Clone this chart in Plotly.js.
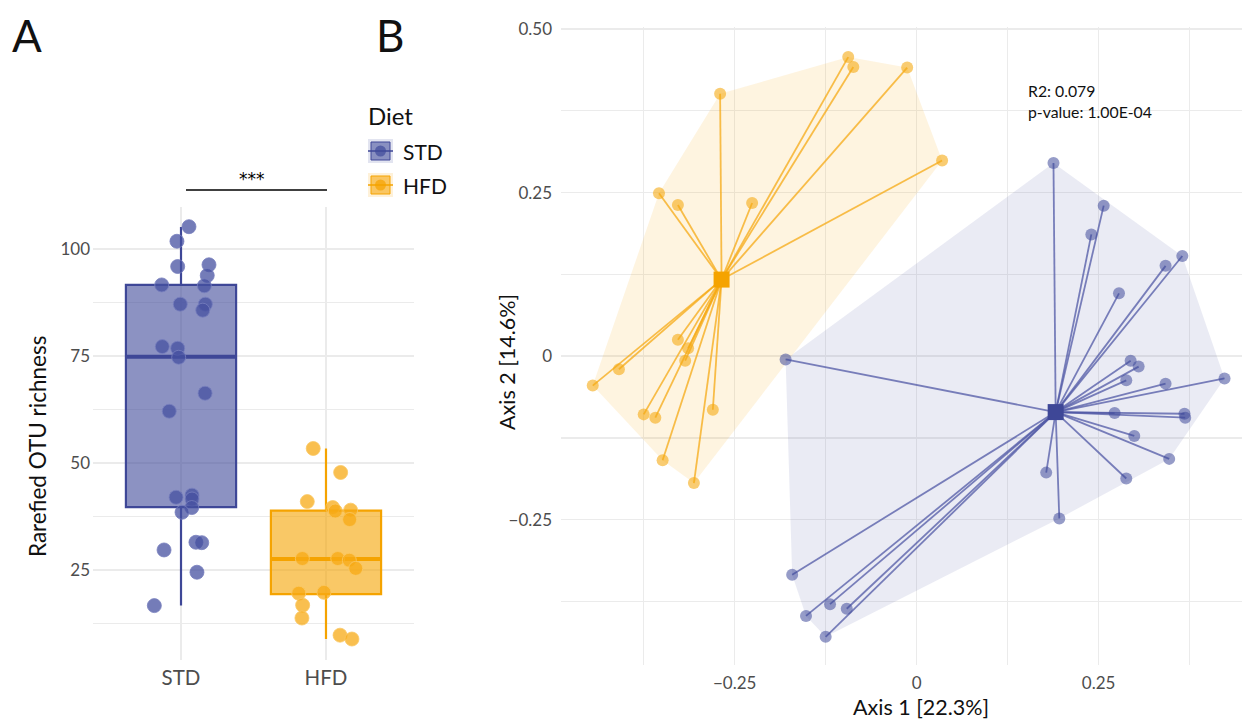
<!DOCTYPE html>
<html>
<head>
<meta charset="utf-8">
<script src="https://cdn.plot.ly/plotly-3.0.1.min.js"></script>
<style>html,body{margin:0;padding:0;background:#fff;}#chart{width:1244px;height:722px;}</style>
</head>
<body>
<div id="chart"></div>
<script>
// ---------- Panel A data ----------
const groupsA = ['STD', 'HFD'];
const stdRich = [105.2, 101.8, 95.9, 96.3, 93.8, 91.6, 91.4, 87.1, 87.1, 85.7, 77.2, 76.8, 74.7, 66.3, 62.1, 42.0, 42.5, 41.6, 39.6, 38.5, 31.5, 31.4, 29.7, 24.5, 16.7];
const stdJitter = [0.055, -0.028, -0.023, 0.193, 0.181, -0.133, 0.161, -0.005, 0.168, 0.15, -0.129, -0.023, -0.016, 0.166, -0.081, -0.034, 0.076, 0.076, 0.074, 0.007, 0.103, 0.143, -0.117, 0.11, -0.184];
const hfdRich = [53.4, 47.8, 41.0, 39.6, 38.8, 39.0, 36.8, 27.7, 27.7, 27.3, 25.4, 19.6, 19.8, 16.8, 13.8, 9.8, 8.9];
const hfdJitter = [-0.088, 0.101, -0.129, 0.046, 0.064, 0.17, 0.163, -0.163, 0.081, 0.161, 0.205, -0.188, -0.014, -0.161, -0.166, 0.097, 0.179];
// box stats [lowerfence, q1, median, q3, upperfence]
const stdBox = [16.7, 39.7, 74.8, 91.6, 105.1];
const hfdBox = [8.9, 19.4, 27.6, 38.9, 53.4];
const yTicksA = [25, 50, 75, 100];
const sigLabel = '***';

// ---------- Panel B data ----------
const hfdAx1 = [-0.094, -0.087, -0.270, -0.354, -0.328, -0.226, -0.328, -0.314, -0.013, 0.035, -0.318, -0.409, -0.445, -0.375, -0.359, -0.280, -0.349, -0.306];
const hfdAx2 = [0.457, 0.442, 0.401, 0.249, 0.231, 0.234, 0.025, 0.012, 0.441, 0.299, -0.007, -0.020, -0.045, -0.089, -0.094, -0.082, -0.159, -0.194];
const stdAx1 = [0.188, 0.257, 0.240, 0.365, 0.342, 0.278, 0.294, 0.305, 0.288, 0.342, 0.423, 0.272, 0.368, 0.369, 0.299, 0.347, 0.178, 0.288, 0.196, -0.096, -0.180, -0.171, -0.152, -0.119, -0.125];
const stdAx2 = [0.295, 0.230, 0.186, 0.153, 0.138, 0.096, -0.007, -0.016, -0.037, -0.042, -0.034, -0.087, -0.088, -0.094, -0.122, -0.157, -0.178, -0.187, -0.248, -0.386, -0.005, -0.334, -0.397, -0.379, -0.429];
const stdCentroid = [0.191, -0.0855];
const hfdCentroid = [-0.268, 0.117];
const tickValsB = [-0.25, 0, 0.25, 0.5];
const tickTextB = ['\u22120.25', '0', '0.25', '0.50'];
const statsText = 'R2: 0.079<br>p-value: 1.00E-04';

// ---------- styling ----------
const W = 1244, H = 722;
const px = v => v / W, py = v => 1 - v / H;
const FONT = 'Lato, "Open Sans", sans-serif';
const BLUE = '#3e4797', ORANGE = '#f5a300';
const GRID = '#ebebeb';

function hull(xs, ys) {
  const pts = xs.map((x, i) => [x, ys[i]]).sort((a, b) => a[0] - b[0] || a[1] - b[1]);
  const cross = (o, a, b) => (a[0] - o[0]) * (b[1] - o[1]) - (a[1] - o[1]) * (b[0] - o[0]);
  const lower = [], upper = [];
  for (const p of pts) { while (lower.length >= 2 && cross(lower[lower.length - 2], lower[lower.length - 1], p) <= 0) lower.pop(); lower.push(p); }
  for (let i = pts.length - 1; i >= 0; i--) { const p = pts[i]; while (upper.length >= 2 && cross(upper[upper.length - 2], upper[upper.length - 1], p) <= 0) upper.pop(); upper.push(p); }
  const h = lower.slice(0, -1).concat(upper.slice(0, -1));
  h.push(h[0]);
  return { x: h.map(p => p[0]), y: h.map(p => p[1]) };
}
function spokes(xs, ys, c) {
  const x = [], y = [];
  xs.forEach((v, i) => { x.push(v, c[0], null); y.push(ys[i], c[1], null); });
  return { x, y };
}

const traces = [];
// Panel A boxes
const boxW = 0.76;
[[stdBox, 0, BLUE, 'rgba(63,74,154,0.6)'], [hfdBox, 1, ORANGE, 'rgba(245,163,0,0.6)']].forEach(([b, xi, lc, fc]) => {
  traces.push({
    type: 'box', x: [xi], lowerfence: [b[0]], q1: [b[1]], median: [b[2]], q3: [b[3]], upperfence: [b[4]],
    width: boxW, whiskerwidth: 0, fillcolor: fc, line: { color: lc, width: 2.2 },
    boxpoints: false, showlegend: false, hoverinfo: 'skip', xaxis: 'x', yaxis: 'y'
  });
  traces.push({
    type: 'scatter', mode: 'lines', x: [xi - boxW / 2, xi + boxW / 2], y: [b[2], b[2]],
    line: { color: lc, width: 4 }, showlegend: false, hoverinfo: 'skip', xaxis: 'x', yaxis: 'y'
  });
});
traces.push({
  type: 'scatter', mode: 'markers', x: stdJitter.map(j => 0 + j), y: stdRich,
  marker: { size: 14, color: 'rgba(70,80,160,0.75)', line: { color: 'rgba(120,128,190,0.8)', width: 1 } },
  showlegend: false, hoverinfo: 'skip', xaxis: 'x', yaxis: 'y'
});
traces.push({
  type: 'scatter', mode: 'markers', x: hfdJitter.map(j => 1 + j), y: hfdRich,
  marker: { size: 14, color: 'rgba(247,170,20,0.75)', line: { color: 'rgba(250,200,100,0.8)', width: 1 } },
  showlegend: false, hoverinfo: 'skip', xaxis: 'x', yaxis: 'y'
});

// Panel B hulls
const hH = hull(hfdAx1, hfdAx2), hS = hull(stdAx1, stdAx2);
traces.push({ type: 'scatter', mode: 'lines', x: hH.x, y: hH.y, fill: 'toself', fillcolor: 'rgba(245,163,0,0.12)', line: { width: 0 }, showlegend: false, hoverinfo: 'skip', xaxis: 'x2', yaxis: 'y2' });
traces.push({ type: 'scatter', mode: 'lines', x: hS.x, y: hS.y, fill: 'toself', fillcolor: 'rgba(63,74,154,0.11)', line: { width: 0 }, showlegend: false, hoverinfo: 'skip', xaxis: 'x2', yaxis: 'y2' });
// spokes
const sH = spokes(hfdAx1, hfdAx2, hfdCentroid), sS = spokes(stdAx1, stdAx2, stdCentroid);
traces.push({ type: 'scatter', mode: 'lines', x: sH.x, y: sH.y, line: { color: 'rgba(245,170,20,0.75)', width: 1.8 }, showlegend: false, hoverinfo: 'skip', xaxis: 'x2', yaxis: 'y2' });
traces.push({ type: 'scatter', mode: 'lines', x: sS.x, y: sS.y, line: { color: 'rgba(80,88,165,0.75)', width: 1.8 }, showlegend: false, hoverinfo: 'skip', xaxis: 'x2', yaxis: 'y2' });
// points
traces.push({ type: 'scatter', mode: 'markers', x: hfdAx1, y: hfdAx2, marker: { size: 12, color: 'rgba(245,170,20,0.6)', line: { width: 0 } }, showlegend: false, hoverinfo: 'skip', xaxis: 'x2', yaxis: 'y2' });
traces.push({ type: 'scatter', mode: 'markers', x: stdAx1, y: stdAx2, marker: { size: 12, color: 'rgba(63,74,154,0.55)', line: { width: 0 } }, showlegend: false, hoverinfo: 'skip', xaxis: 'x2', yaxis: 'y2' });
// centroids
traces.push({ type: 'scatter', mode: 'markers', x: [hfdCentroid[0]], y: [hfdCentroid[1]], marker: { symbol: 'square', size: 16, color: ORANGE }, showlegend: false, hoverinfo: 'skip', xaxis: 'x2', yaxis: 'y2' });
traces.push({ type: 'scatter', mode: 'markers', x: [stdCentroid[0]], y: [stdCentroid[1]], marker: { symbol: 'square', size: 16, color: BLUE }, showlegend: false, hoverinfo: 'skip', xaxis: 'x2', yaxis: 'y2' });

const tickFont = { family: FONT, size: 17, color: '#4d4d4d' };
const baseAxis = { showgrid: true, gridcolor: GRID, gridwidth: 1.5, zeroline: false, showline: false, ticks: '', fixedrange: true };

const shapes = [
  // significance bar
  { type: 'line', xref: 'paper', yref: 'paper', x0: px(186), x1: px(327), y0: py(190), y1: py(190), line: { color: '#000', width: 1.6 } },
];
// legend keys
[[139, 'rgba(63,74,154,', BLUE], [173, 'rgba(245,163,0,', ORANGE]].forEach(([top, rgba, lc]) => {
  shapes.push({ type: 'rect', xref: 'paper', yref: 'paper', x0: px(368), x1: px(393), y0: py(top), y1: py(top + 24), fillcolor: rgba + '0.15)', line: { width: 0 } });
  shapes.push({ type: 'rect', xref: 'paper', yref: 'paper', x0: px(371), x1: px(390), y0: py(top + 3), y1: py(top + 21), fillcolor: rgba + '0.55)', line: { color: lc, width: 1 } });
  shapes.push({ type: 'line', xref: 'paper', yref: 'paper', x0: px(368), x1: px(393), y0: py(top + 12), y1: py(top + 12), line: { color: lc, width: 1.5 } });
  shapes.push({ type: 'circle', xref: 'paper', yref: 'paper', x0: px(375), x1: px(386), y0: py(top + 6.5), y1: py(top + 17.5), fillcolor: rgba + '0.7)', line: { width: 0 } });
});

const ann = (x, y, text, opts) => Object.assign({ xref: 'paper', yref: 'paper', x: px(x), y: py(y), text, showarrow: false }, opts);
const annotations = [
  ann(10, 35, 'A', { xanchor: 'left', yanchor: 'middle', font: { family: FONT, size: 44, color: '#111' } }),
  ann(374, 35, 'B', { xanchor: 'left', yanchor: 'middle', font: { family: FONT, size: 44, color: '#111' } }),
  ann(252, 179, sigLabel, { xanchor: 'center', yanchor: 'middle', font: { family: '"DejaVu Sans", sans-serif', size: 17, color: '#000' } }),
  ann(366, 115, 'Diet', { xanchor: 'left', yanchor: 'middle', font: { family: FONT, size: 24, color: '#111' } }),
  ann(401, 151, groupsA[0], { xanchor: 'left', yanchor: 'middle', font: { family: FONT, size: 21, color: '#111' } }),
  ann(401, 185, groupsA[1], { xanchor: 'left', yanchor: 'middle', font: { family: FONT, size: 21, color: '#111' } }),
  ann(37, 447, 'Rarefied OTU richness', { textangle: -90, xanchor: 'center', yanchor: 'middle', font: { family: FONT, size: 22.5, color: '#111' } }),
  ann(507, 362, 'Axis 2 [14.6%]', { textangle: -90, xanchor: 'center', yanchor: 'middle', font: { family: FONT, size: 21.5, color: '#111' } }),
  ann(921, 707, 'Axis 1 [22.3%]', { xanchor: 'center', yanchor: 'middle', font: { family: FONT, size: 21.5, color: '#111' } }),
  ann(1026, 101, statsText, { xanchor: 'left', yanchor: 'middle', align: 'left', font: { family: FONT, size: 15.8, color: '#111' } }),
];

const layout = {
  width: W, height: H, margin: { l: 0, r: 0, t: 0, b: 0 },
  paper_bgcolor: '#fff', plot_bgcolor: 'rgba(0,0,0,0)', showlegend: false,
  font: { family: FONT },
  xaxis: Object.assign({}, baseAxis, { domain: [px(93), px(414)], range: [-0.607, 1.607], anchor: 'y', tickvals: [0, 1], ticktext: groupsA, tickfont: { family: FONT, size: 20.5, color: '#4d4d4d' }, ticklabelstandoff: 3 }),
  yaxis: Object.assign({}, baseAxis, { domain: [py(660), py(207)], range: [4, 109.8], anchor: 'x', tickvals: yTicksA, tickfont: tickFont, ticklabelstandoff: 2,
    minor: { tickmode: 'array', tickvals: [12.5, 37.5, 62.5, 87.5], showgrid: true, gridcolor: GRID, gridwidth: 1.2, ticks: '' } }),
  xaxis2: Object.assign({}, baseAxis, { domain: [px(561), px(1242)], range: [-0.4886, 0.447], anchor: 'y2', tickvals: tickValsB, ticktext: tickTextB, tickfont: tickFont, ticklabelstandoff: 6,
    minor: { tickmode: 'array', tickvals: [-0.375, -0.125, 0.125, 0.375], showgrid: true, gridcolor: GRID, gridwidth: 1.2, ticks: '' } }),
  yaxis2: Object.assign({}, baseAxis, { domain: [py(665), py(27)], range: [-0.472, 0.503], anchor: 'x2', tickvals: tickValsB, ticktext: tickTextB, tickfont: tickFont, ticklabelstandoff: 8,
    minor: { tickmode: 'array', tickvals: [-0.375, -0.125, 0.125, 0.375], showgrid: true, gridcolor: GRID, gridwidth: 1.2, ticks: '' } }),
  shapes, annotations
};

Plotly.newPlot('chart', traces, layout, { staticPlot: true, displayModeBar: false });
</script>
</body>
</html>
